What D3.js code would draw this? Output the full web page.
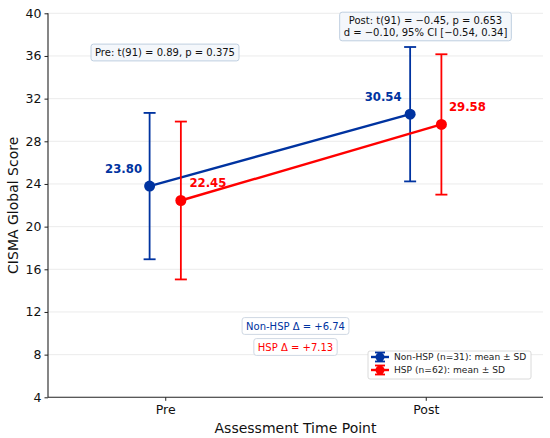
<!DOCTYPE html>
<html>
<head>
<meta charset="utf-8">
<script src="https://cdnjs.cloudflare.com/ajax/libs/d3/7.8.5/d3.min.js"></script>
<style>
  body { margin: 0; background: #fff; }
  text { font-family: "DejaVu Sans", sans-serif; }
</style>
</head>
<body>
<script>
// data
var timePoints = ["Pre", "Post"];
var groups = ["Non-HSP", "HSP"];
var groupN = [31, 62];
var nonHspMean = [23.80, 30.54];
var nonHspSd = [6.86, 6.30];
var hspMean = [22.45, 29.58];
var hspSd = [7.40, 6.58];
var yTicks = [4, 8, 12, 16, 20, 24, 28, 32, 36, 40];
var deltaLabels = ["Non-HSP \u0394 = +6.74", "HSP \u0394 = +7.13"];
var testLabels = {
    pre: ["Pre: t(91) = 0.89, p = 0.375"],
    post: ["Post: t(91) = \u22120.45, p = 0.653", "d = \u22120.10, 95% CI [\u22120.54, 0.34]"]
};

var colors = ["#0033a0", "#ff0000"];
var offsets = [-0.06, 0.06];

var width = 550, height = 438;
var margin = {left: 48, right: 7, top: 13.3, bottom: 40.7};

var svg = d3.select("body").append("svg")
    .attr("width", width)
    .attr("height", height);

var x = d3.scaleLinear().domain([-0.45, 1.45]).range([margin.left, width - margin.right]);
var y = d3.scaleLinear().domain([4, 40]).range([height - margin.bottom, margin.top]);

var series = groups.map(function (g, i) {
    var means = i === 0 ? nonHspMean : hspMean;
    var sds = i === 0 ? nonHspSd : hspSd;
    return {
        name: g, n: groupN[i], color: colors[i],
        pts: timePoints.map(function (t, j) {
            return {x: j + offsets[i], m: means[j], sd: sds[j]};
        })
    };
});

// grid
svg.append("g").selectAll("line")
    .data(yTicks.slice(1))
    .enter().append("line")
    .attr("x1", x.range()[0]).attr("x2", x.range()[1])
    .attr("y1", function (d) { return y(d); })
    .attr("y2", function (d) { return y(d); })
    .attr("stroke", "#e6e6e6").attr("stroke-width", 0.8);

// axes
var yAxis = svg.append("g")
    .attr("transform", "translate(" + margin.left + ",0)")
    .call(d3.axisLeft(y).tickValues(yTicks).tickSize(3.5).tickPadding(3));
var xAxis = svg.append("g")
    .attr("transform", "translate(0," + y(4) + ")")
    .call(d3.axisBottom(x).tickValues([0, 1]).tickSize(3.5).tickPadding(4)
        .tickFormat(function (d) { return timePoints[d]; }));
[xAxis, yAxis].forEach(function (a) {
    a.select(".domain").attr("stroke", "#222").attr("stroke-width", 1.1);
    a.selectAll(".tick line").attr("stroke", "#222");
    a.selectAll("text").attr("font-size", 12.5).attr("fill", "#111")
        .attr("font-family", "DejaVu Sans, sans-serif");
});
yAxis.select(".domain").attr("d", "M0," + y(4) + "V" + y(40));
xAxis.select(".domain").attr("d", "M" + x.range()[0] + ",0H" + x.range()[1]);

svg.append("text")
    .attr("transform", "translate(17.5," + ((y(4) + y(40)) / 2) + ") rotate(-90)")
    .attr("text-anchor", "middle").attr("font-size", 14).attr("fill", "#111")
    .text("CISMA Global Score");
svg.append("text")
    .attr("x", (x.range()[0] + x.range()[1]) / 2).attr("y", 433)
    .attr("text-anchor", "middle").attr("font-size", 14).attr("fill", "#111")
    .text("Assessment Time Point");

// lines, error bars, points
var line = d3.line().x(function (d) { return x(d.x); }).y(function (d) { return y(d.m); });

series.forEach(function (s) {
    var g = svg.append("g");
    g.append("path").datum(s.pts)
        .attr("d", line).attr("fill", "none")
        .attr("stroke", s.color).attr("stroke-width", 2.4);
    var eb = g.selectAll(".eb").data(s.pts).enter().append("g");
    eb.append("line")
        .attr("x1", function (d) { return x(d.x); }).attr("x2", function (d) { return x(d.x); })
        .attr("y1", function (d) { return y(d.m - d.sd); })
        .attr("y2", function (d) { return y(d.m + d.sd); })
        .attr("stroke", s.color).attr("stroke-width", 1.8);
    [-1, 1].forEach(function (sign) {
        eb.append("line")
            .attr("x1", function (d) { return x(d.x) - 6; })
            .attr("x2", function (d) { return x(d.x) + 6; })
            .attr("y1", function (d) { return y(d.m + sign * d.sd); })
            .attr("y2", function (d) { return y(d.m + sign * d.sd); })
            .attr("stroke", s.color).attr("stroke-width", 1.8);
    });
    eb.append("circle")
        .attr("cx", function (d) { return x(d.x); })
        .attr("cy", function (d) { return y(d.m); })
        .attr("r", 5.5).attr("fill", s.color);
});

// value labels
var valueLabels = [
    {s: 0, j: 0, dx: -26},
    {s: 1, j: 0, dx: 27},
    {s: 0, j: 1, dx: -27},
    {s: 1, j: 1, dx: 26}
];
valueLabels.forEach(function (v) {
    var p = series[v.s].pts[v.j];
    svg.append("text")
        .attr("x", x(p.x) + v.dx).attr("y", y(p.m) - 17.6)
        .attr("text-anchor", "middle").attr("dominant-baseline", "central")
        .attr("font-size", 11.7).attr("font-weight", "bold")
        .attr("fill", series[v.s].color)
        .text(p.m.toFixed(2));
});

// boxed annotations
function box(lines, cx, cy, opts) {
    var g = svg.append("g");
    var lh = 11.8;
    var t = g.selectAll("text").data(lines).enter().append("text")
        .attr("x", cx)
        .attr("y", function (d, i) { return cy + (i - (lines.length - 1) / 2) * lh; })
        .attr("text-anchor", "middle").attr("dominant-baseline", "central")
        .attr("font-size", opts.size).attr("fill", opts.color)
        .text(function (d) { return d; });
    var w = 0;
    t.each(function () { w = Math.max(w, this.getComputedTextLength()); });
    var h = lines.length * lh + 5;
    g.insert("rect", "text")
        .attr("x", cx - w / 2 - 4).attr("y", cy - h / 2)
        .attr("width", w + 8).attr("height", h)
        .attr("rx", 2.5)
        .attr("fill", opts.fill).attr("stroke", opts.stroke).attr("stroke-width", 1);
}

box(testLabels.pre, 165, 52.5, {size: 10, color: "#111", fill: "#f4f7fb", stroke: "#bfcfe0"});
box(testLabels.post, 425.5, 26.5, {size: 10, color: "#111", fill: "#f4f7fb", stroke: "#bfcfe0"});
box([deltaLabels[0]], 295.5, 326, {size: 10, color: colors[0], fill: "#fff", stroke: "#cfd8e3"});
box([deltaLabels[1]], 295.5, 347, {size: 10, color: colors[1], fill: "#fff", stroke: "#cfd8e3"});

// legend
var lg = svg.append("g").attr("transform", "translate(368,351)");
lg.append("rect").attr("width", 163).attr("height", 28).attr("rx", 2)
    .attr("fill", "#fff").attr("stroke", "#d0d0d0").attr("stroke-width", 0.8);
series.forEach(function (s, i) {
    var cy = 6 + i * 13;
    var item = lg.append("g").attr("transform", "translate(0," + cy + ")");
    item.append("line").attr("x1", 3).attr("x2", 21).attr("y1", 0).attr("y2", 0)
        .attr("stroke", s.color).attr("stroke-width", 2.4);
    item.append("line").attr("x1", 12).attr("x2", 12).attr("y1", -4.5).attr("y2", 4.5)
        .attr("stroke", s.color).attr("stroke-width", 1.8);
    [-4.5, 4.5].forEach(function (yy) {
        item.append("line").attr("x1", 7).attr("x2", 17).attr("y1", yy).attr("y2", yy)
            .attr("stroke", s.color).attr("stroke-width", 1.8);
    });
    item.append("circle").attr("cx", 12).attr("cy", 0).attr("r", 4.5).attr("fill", s.color);
    item.append("text").attr("x", 26).attr("y", 0)
        .attr("dominant-baseline", "central").attr("font-size", 9.1).attr("fill", "#222")
        .text(s.name + " (n=" + s.n + "): mean \u00b1 SD");
});
</script>
</body>
</html>
